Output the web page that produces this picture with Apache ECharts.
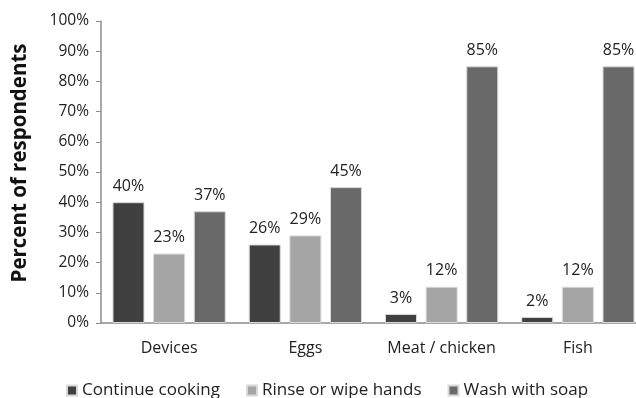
<!DOCTYPE html>
<html>
<head>
<meta charset="utf-8">
<script src="https://cdn.jsdelivr.net/npm/echarts@6/dist/echarts.min.js"></script>
<style>
html, body { margin: 0; padding: 0; background: #fff; }
#container { width: 636px; height: 398px; }
</style>
</head>
<body>
<div id="container"></div>
<script>
var categories = ['Devices', 'Eggs', 'Meat / chicken', 'Fish'];
var seriesNames = ['Continue cooking', 'Rinse or wipe hands', 'Wash with soap'];
var continueCooking = [40, 26, 3, 2];
var rinseHands = [23, 29, 12, 12];
var washSoap = [37, 45, 85, 85];
var colors = ['#404040', '#a5a5a5', '#696969'];

var font = '"Open Sans", "Noto Sans", sans-serif';

function makeSeries(name, data, color) {
	return {
		name: name,
		type: 'bar',
		data: data,
		barWidth: 32,
		barGap: '27%',
		itemStyle: {
			color: color,
			borderColor: '#d9d9d9',
			borderWidth: 1
		},
		label: {
			show: true,
			position: 'top',
			distance: 8,
			formatter: '{c}%',
			fontFamily: font,
			fontSize: 16,
			color: '#222'
		}
	};
}

var option = {
	animation: false,
	color: colors,
	grid: { left: 101, width: 545, top: 21, bottom: 75, outerBoundsMode: 'none' },
	legend: {
		top: 377,
		left: 61,
		itemWidth: 10,
		itemHeight: 10,
		itemGap: 26,
		icon: 'rect',
		textStyle: { fontFamily: font, fontSize: 17, color: '#222' },
		data: seriesNames
	},
	graphic: [{
		type: 'text',
		x: 20,
		y: 163,
		rotation: Math.PI / 2,
		style: {
			text: 'Percent of respondents',
			fontFamily: font,
			fontSize: 20.5,
			fontWeight: 'bold',
			fill: '#111',
			align: 'center',
			verticalAlign: 'middle'
		}
	}],
	xAxis: {
		type: 'category',
		data: categories,
		axisLine: { lineStyle: { color: '#8c8c8c', width: 1.5 } },
		axisTick: { show: false },
		axisLabel: { interval: 0, fontFamily: font, fontSize: 16, color: '#222', margin: 17 }
	},
	yAxis: {
		type: 'value',
		min: 0,
		max: 100,
		interval: 10,
		axisLine: { show: true, lineStyle: { color: '#8c8c8c', width: 1.5 } },
		axisTick: { show: true, length: 5, lineStyle: { color: '#8c8c8c' } },
		splitLine: { show: false },
		axisLabel: { formatter: '{value}%', fontFamily: font, fontSize: 15.5, color: '#222', margin: 12 }
	},
	series: [
		makeSeries(seriesNames[0], continueCooking, colors[0]),
		makeSeries(seriesNames[1], rinseHands, colors[1]),
		makeSeries(seriesNames[2], washSoap, colors[2])
	]
};

var myChart = echarts.init(document.getElementById('container'));
myChart.setOption(option);
</script>
</body>
</html>
